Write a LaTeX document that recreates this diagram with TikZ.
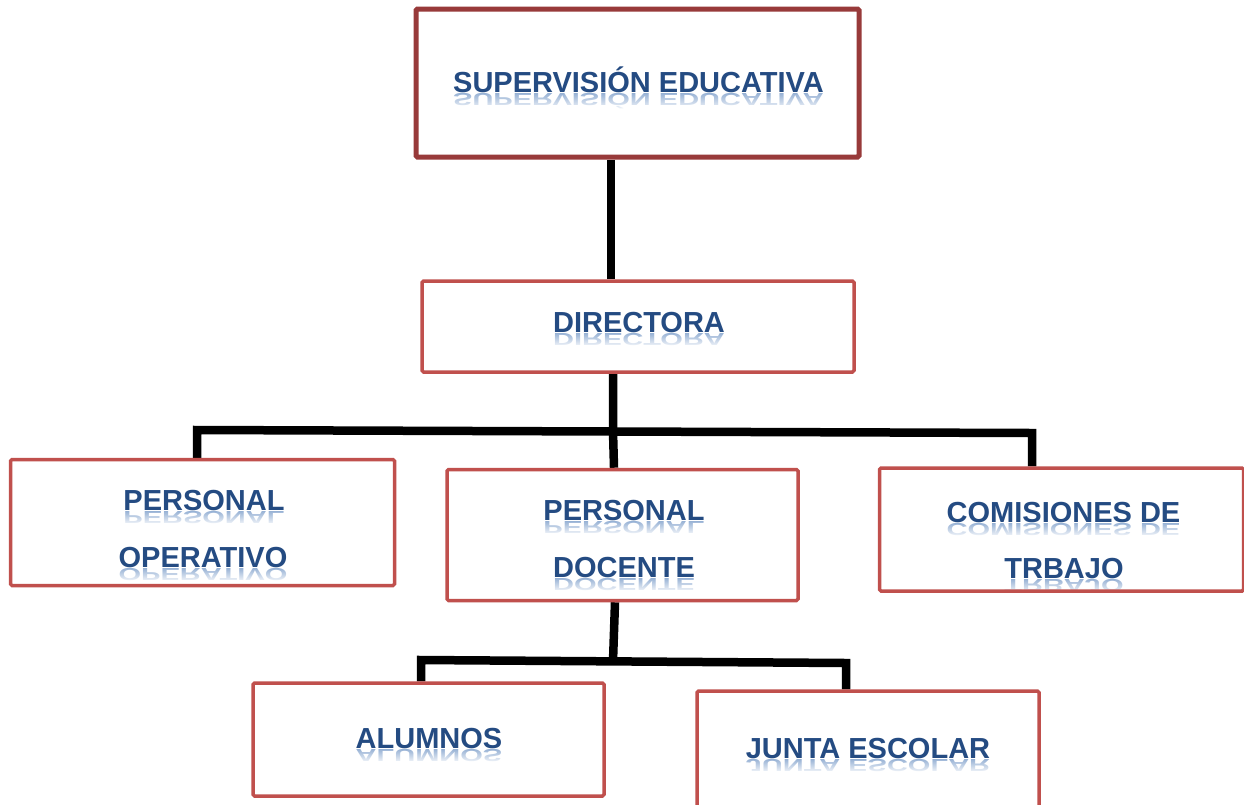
\documentclass[tikz,border=0pt]{standalone}
\usepackage{fontspec}
\setmainfont{Liberation Sans}
\usetikzlibrary{fadings,backgrounds}
\definecolor{boxred}{HTML}{C0504D}
\definecolor{topred}{HTML}{983A3A}
\definecolor{txtblue}{HTML}{244B82}
\definecolor{reflblue}{HTML}{7FA0CC}
\tikzset{
  box/.style={draw=boxred, line width=3.5pt, rounded corners=1.5pt, inner sep=0pt},
  topbox/.style={box, draw=topred, line width=5pt},
  conn/.style={line width=8.5pt, draw=black, line join=miter},
  lbl/.style={font=\fontsize{29}{29}\selectfont\bfseries, text=txtblue, inner sep=0pt, anchor=base},
  refl/.style={lbl, text=reflblue, yscale=-0.6, transform shape, text opacity=0.85},
}
\newcommand\tline[4]{%
  \node[lbl] (#1) at (#2,#3) {#4};
  \node[refl] (#1r) at (#2,#3+1.5) {#4};
  \fill[white, path fading=north] ([xshift=-2pt,yshift=1pt]#1r.south west) rectangle ([xshift=2pt,yshift=-2pt]#1r.north east);
}
\begin{document}
\begin{tikzpicture}[x=1pt,y=-1pt]
\useasboundingbox (0,0) rectangle (1244,804);
% texts
\tline{tsup}{638.5}{92}{SUPERVISIÓN EDUCATIVA}
\tline{tdir}{639}{332}{DIRECTORA}
\tline{topa}{204}{510}{PERSONAL}
\tline{topb}{203}{567}{OPERATIVO}
\tline{tdoca}{624}{520}{PERSONAL}
\tline{tdocb}{624}{577}{DOCENTE}
\tline{tcoma}{1063.5}{522}{COMISIONES DE}
\tline{tcomb}{1064}{578}{TRBAJO}
\tline{talu}{429}{748}{ALUMNOS}
\tline{tjun}{868}{758}{JUNTA ESCOLAR}
% boxes
\node[topbox, minimum width=443pt, minimum height=148pt] (sup) at (637.5,83) {};
\node[box, minimum width=432pt, minimum height=91pt] (dir) at (638,326.5) {};
\node[box, minimum width=384pt, minimum height=126pt] (op) at (202.5,522.5) {};
\node[box, minimum width=351pt, minimum height=131pt] (doc) at (622.5,535) {};
\node[box, minimum width=364pt, minimum height=123pt] (com) at (1061.5,529.5) {};
\node[box, minimum width=351pt, minimum height=113pt] (alu) at (428.5,739.5) {};
\node[box, minimum width=342pt, minimum height=120pt] (jun) at (868,751) {};
% connectors
\coordinate (b1) at (197,430);
\coordinate (b2) at (1032,433);
\coordinate (b3) at (613,431.5);
\coordinate (d1) at (421,660);
\coordinate (d2) at (846,663);
\coordinate (d3) at (613,661);
\begin{scope}[on background layer]
\fill[white] (0,0) rectangle (1244,804);
\draw[conn] ([xshift=-26.5pt]sup.south) -- ([xshift=-27pt]dir.north);
\draw[conn] ([xshift=-25pt]dir.south) -- (b3) -- ([xshift=-8.5pt]doc.north);
\draw[conn] ([xshift=-5.5pt]op.north) -- (b1) -- (b2) -- ([xshift=-29.5pt]com.north);
\draw[conn] ([xshift=-7.5pt]doc.south) -- (d3);
\draw[conn] ([xshift=-7.5pt]alu.north) -- (d1) -- (d2) -- ([xshift=-22pt]jun.north);
\end{scope}
\end{tikzpicture}
\end{document}
